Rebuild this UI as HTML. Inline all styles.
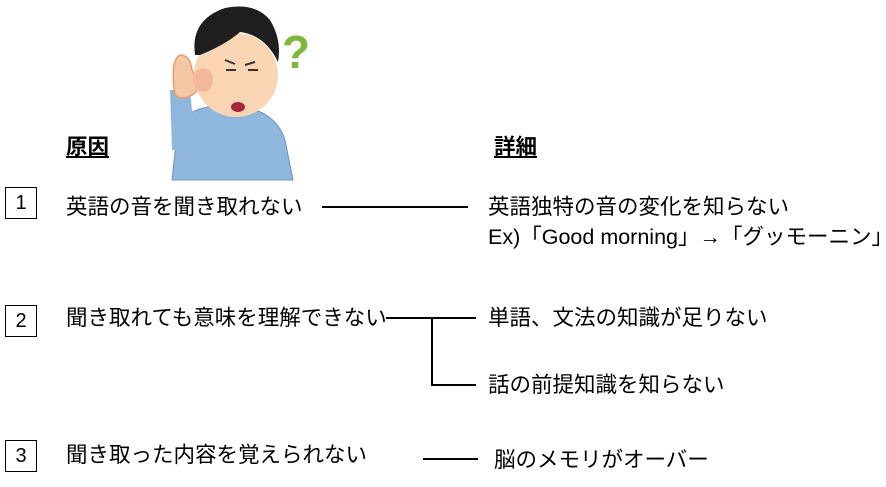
<!DOCTYPE html>
<html><head><meta charset="utf-8"><style>
body{margin:0;width:886px;height:487px;background:#fff;overflow:hidden;position:relative;font-family:"Liberation Sans","Noto Sans CJK JP",sans-serif;color:#000}
.t{position:absolute;font-size:21.5px;line-height:24px;white-space:nowrap}
.b{position:absolute;width:30px;height:30px;border:1.5px solid #000;font-size:20px;text-align:center;line-height:30px}
.l{position:absolute;background:#000}
</style></head><body>
<svg style="position:absolute;left:0;top:0" width="886" height="487">
<path d="M172 180 L178 125 Q190 105 230 105 Q275 108 285 140 L293 180 Z" fill="#8fb7dd" stroke="#6d93bf" stroke-width="1"/>
<path d="M172 150 L170 90 L190 90 L196 150 Z" fill="#8fb7dd"/>
<path d="M175 95 Q170 60 180 55 Q190 55 192 70 L200 85 Q195 98 180 98 Z" fill="#f6c7a4" stroke="#e89a6a" stroke-width="1.5"/>
<ellipse cx="236" cy="75" rx="42" ry="42" fill="#f9d5b4"/>
<ellipse cx="203" cy="80" rx="10" ry="12" fill="#f3b79b"/>
<path d="M195 55 Q190 20 225 8 Q255 2 270 20 Q282 40 278 62 Q265 35 240 32 Q225 45 200 55 Z" fill="#1e1e1e"/>
<path d="M225 60 l10 4 M255 62 l-10 3 M226 70 l10 0 M248 70 l10 0" stroke="#333" stroke-width="2"/>
<ellipse cx="238" cy="107" rx="7" ry="5" fill="#a5283c"/>
<text x="282" y="68" font-size="46" font-weight="bold" fill="#7cb93b" font-family="Liberation Sans">?</text>
</svg>
<div class="t" style="left:66px;top:135px;font-weight:bold;text-decoration:underline">原因</div>
<div class="t" style="left:494px;top:135px;font-weight:bold;text-decoration:underline">詳細</div>
<div class="b" style="left:5px;top:187px">1</div>
<div class="b" style="left:5px;top:305px">2</div>
<div class="b" style="left:5px;top:440px">3</div>
<div class="t" style="left:66px;top:195px">英語の音を聞き取れない</div>
<div class="t" style="left:488px;top:195px">英語独特の音の変化を知らない</div>
<div class="t" style="left:488px;top:225px">Ex)「Good morning」→「グッモーニン」</div>
<div class="t" style="left:66px;top:306px">聞き取れても意味を理解できない</div>
<div class="t" style="left:488px;top:306px">単語、文法の知識が足りない</div>
<div class="t" style="left:488px;top:373px">話の前提知識を知らない</div>
<div class="t" style="left:66px;top:443px">聞き取った内容を覚えられない</div>
<div class="t" style="left:494px;top:448px">脳のメモリがオーバー</div>
<div class="l" style="left:322px;top:206px;width:146px;height:2px"></div>
<div class="l" style="left:386px;top:317px;width:90px;height:2px"></div>
<div class="l" style="left:431px;top:317px;width:2px;height:69px"></div>
<div class="l" style="left:431px;top:384px;width:45px;height:2px"></div>
<div class="l" style="left:423px;top:458px;width:55px;height:2px"></div>
</body></html>
